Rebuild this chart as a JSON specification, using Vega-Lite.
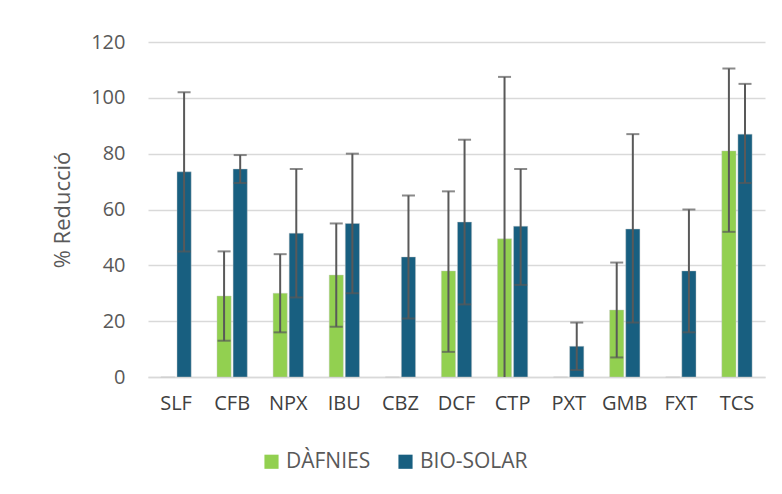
{
  "$schema": "https://vega.github.io/schema/vega-lite/v6.json",
  "autosize": "none",
  "width": 617,
  "height": 335,
  "padding": {"left": 148, "top": 42, "right": 17, "bottom": 117},
  "background": "white",
  "config": {
    "font": "Open Sans",
    "view": {"stroke": null},
    "axis": {"labelColor": "#595959", "titleColor": "#595959", "labelFont": "Open Sans", "titleFont": "Open Sans"},
    "legend": {"labelFont": "Open Sans"}
  },
  "data": {
    "values": [
      {"cat": "SLF", "series": "DÀFNIES", "value": 0, "lo": null, "hi": null},
      {"cat": "SLF", "series": "BIO-SOLAR", "value": 73.5, "lo": 45, "hi": 102},
      {"cat": "CFB", "series": "DÀFNIES", "value": 29, "lo": 13, "hi": 45},
      {"cat": "CFB", "series": "BIO-SOLAR", "value": 74.5, "lo": 69.5, "hi": 79.5},
      {"cat": "NPX", "series": "DÀFNIES", "value": 30, "lo": 16, "hi": 44},
      {"cat": "NPX", "series": "BIO-SOLAR", "value": 51.5, "lo": 28.5, "hi": 74.5},
      {"cat": "IBU", "series": "DÀFNIES", "value": 36.5, "lo": 18, "hi": 55},
      {"cat": "IBU", "series": "BIO-SOLAR", "value": 55, "lo": 30, "hi": 80},
      {"cat": "CBZ", "series": "DÀFNIES", "value": 0, "lo": null, "hi": null},
      {"cat": "CBZ", "series": "BIO-SOLAR", "value": 43, "lo": 21, "hi": 65},
      {"cat": "DCF", "series": "DÀFNIES", "value": 38, "lo": 9, "hi": 66.5},
      {"cat": "DCF", "series": "BIO-SOLAR", "value": 55.5, "lo": 26, "hi": 85},
      {"cat": "CTP", "series": "DÀFNIES", "value": 49.5, "lo": -8.5, "hi": 107.5},
      {"cat": "CTP", "series": "BIO-SOLAR", "value": 54, "lo": 33, "hi": 74.5},
      {"cat": "PXT", "series": "DÀFNIES", "value": 0, "lo": null, "hi": null},
      {"cat": "PXT", "series": "BIO-SOLAR", "value": 11, "lo": 2.5, "hi": 19.5},
      {"cat": "GMB", "series": "DÀFNIES", "value": 24, "lo": 7, "hi": 41},
      {"cat": "GMB", "series": "BIO-SOLAR", "value": 53, "lo": 19.5, "hi": 87},
      {"cat": "FXT", "series": "DÀFNIES", "value": 0, "lo": null, "hi": null},
      {"cat": "FXT", "series": "BIO-SOLAR", "value": 38, "lo": 16, "hi": 60},
      {"cat": "TCS", "series": "DÀFNIES", "value": 81, "lo": 52, "hi": 110.5},
      {"cat": "TCS", "series": "BIO-SOLAR", "value": 87, "lo": 69.5, "hi": 105}
    ]
  },
  "encoding": {
    "x": {
      "field": "cat", "type": "nominal", "sort": null,
      "scale": {"paddingInner": 0.46, "paddingOuter": 0.23},
      "axis": {"title": null, "labelAngle": 0, "labelFontSize": 20, "labelColor": "#404040", "labelPadding": 16, "ticks": false, "domainColor": "#D9D9D9", "domainWidth": 1.5, "labelOverlap": false}
    },
    "xOffset": {"field": "series", "type": "nominal", "sort": ["DÀFNIES", "BIO-SOLAR"], "scale": {"paddingInner": 0.12}}
  },
  "layer": [
    {
      "mark": {"type": "bar", "stroke": "#c8c8c8", "strokeWidth": 0.6, "strokeOpacity": 0.7},
      "encoding": {
        "y": {
          "field": "value", "type": "quantitative",
          "scale": {"domain": [0, 120]},
          "axis": {"title": "% Reducció", "titleFontSize": 22, "titleFontWeight": "normal", "titlePadding": 16, "labelFontSize": 20, "labelPadding": 23, "ticks": false, "domain": false, "gridColor": "#D9D9D9", "gridWidth": 1.5, "labelOverlap": false, "values": [0, 20, 40, 60, 80, 100, 120]}
        },
        "color": {
          "field": "series", "type": "nominal", "sort": ["DÀFNIES", "BIO-SOLAR"],
          "scale": {"domain": ["DÀFNIES", "BIO-SOLAR"], "range": ["#92D050", "#185F80"]},
          "legend": {"title": null, "orient": "none", "legendX": 113, "legendY": 409, "direction": "horizontal", "symbolType": "square", "symbolSize": 200, "symbolStrokeWidth": 0, "labelFontSize": 21, "labelColor": "#595959", "labelOffset": 4, "columnPadding": 24}
        }
      }
    },
    {
      "mark": {"type": "rule", "color": "#595959", "strokeWidth": 2, "clip": true},
      "encoding": {
        "y": {"field": "lo", "type": "quantitative"},
        "y2": {"field": "hi"}
      }
    },
    {
      "mark": {"type": "tick", "color": "#595959", "thickness": 2, "size": 13, "clip": true},
      "encoding": {"y": {"field": "lo", "type": "quantitative"}}
    },
    {
      "mark": {"type": "tick", "color": "#595959", "thickness": 2, "size": 13, "clip": true},
      "encoding": {"y": {"field": "hi", "type": "quantitative"}}
    }
  ]
}
